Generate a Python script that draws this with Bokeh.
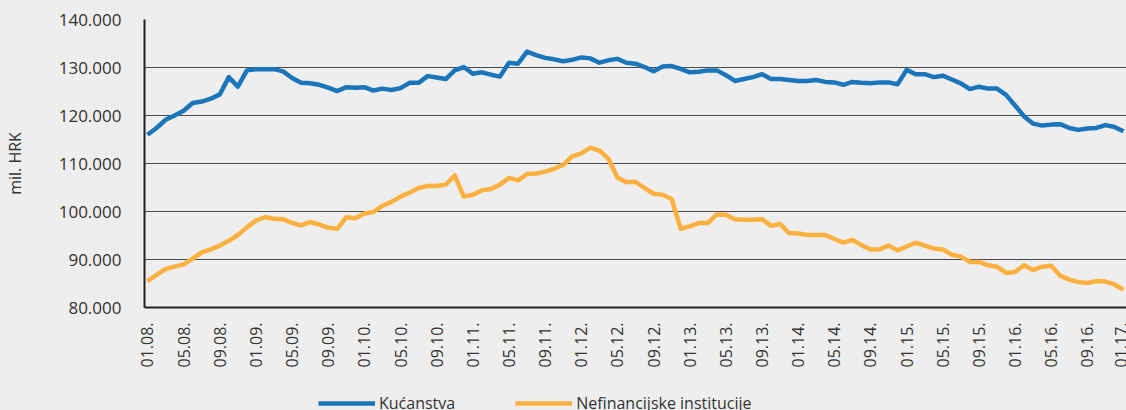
import math
from bokeh.plotting import figure
from bokeh.layouts import column
from bokeh.models import ColumnDataSource, FixedTicker, Legend, LegendItem, Range1d
from bokeh.embed import file_html
from bokeh.resources import INLINE

# Monthly values, 01.2008 - 01.2017 (mil. HRK)
kucanstva = [
    116.0, 117.4, 119.1, 120.0, 121.0, 122.6, 122.9, 123.5, 124.4, 128.0, 126.0, 129.4,
    129.65, 129.65, 129.65, 129.2, 127.8, 126.8, 126.7, 126.4, 125.8, 125.1, 125.9, 125.8,
    125.9, 125.2, 125.6, 125.3, 125.7, 126.8, 126.8, 128.2, 127.9, 127.6, 129.4, 130.1,
    128.7, 129.0, 128.5, 128.1, 131.0, 130.8, 133.3, 132.6, 132.0, 131.7, 131.3, 131.6,
    132.1, 131.9, 131.0, 131.5, 131.8, 131.0, 130.8, 130.1, 129.2, 130.2, 130.3, 129.7,
    129.0, 129.1, 129.4, 129.4, 128.4, 127.2, 127.6, 128.0, 128.6, 127.6, 127.6, 127.4,
    127.2, 127.2, 127.4, 127.0, 126.9, 126.4, 127.0, 126.8, 126.7, 126.9, 126.9, 126.5,
    129.5, 128.6, 128.6, 128.0, 128.3, 127.5, 126.7, 125.5, 126.0, 125.6, 125.6, 124.3,
    122.1, 119.8, 118.3, 117.9, 118.1, 118.2, 117.4, 117.0, 117.3, 117.4, 118.0, 117.6,
    116.7,
]
nefinancijske = [
    85.5, 86.8, 88.0, 88.5, 89.0, 90.2, 91.5, 92.1, 92.9, 93.9, 95.1, 96.7,
    98.1, 98.8, 98.5, 98.4, 97.6, 97.1, 97.8, 97.3, 96.6, 96.4, 98.8, 98.6,
    99.6, 99.9, 101.2, 102.0, 103.1, 103.9, 104.9, 105.3, 105.3, 105.6, 107.5, 103.1,
    103.5, 104.4, 104.7, 105.6, 107.0, 106.5, 107.8, 107.9, 108.3, 108.9, 109.7, 111.5,
    112.1, 113.3, 112.7, 111.0, 107.1, 106.1, 106.2, 104.9, 103.7, 103.5, 102.6, 96.4,
    96.9, 97.6, 97.6, 99.4, 99.3, 98.4, 98.3, 98.3, 98.4, 97.0, 97.4, 95.5,
    95.4, 95.1, 95.1, 95.1, 94.3, 93.5, 94.1, 93.0, 92.1, 92.1, 92.9, 91.9,
    92.7, 93.5, 92.9, 92.3, 92.1, 91.0, 90.6, 89.5, 89.5, 88.8, 88.5, 87.2,
    87.4, 88.8, 87.8, 88.5, 88.7, 86.6, 85.8, 85.3, 85.1, 85.5, 85.4, 84.8,
    83.7,
]
tick_labels = [
    "01.08.", "05.08.", "09.08.", "01.09.", "05.09.", "09.09.", "01.10.", "05.10.",
    "09.10.", "01.11.", "05.11.", "09.11.", "01.12.", "05.12.", "09.12.", "01.13.",
    "05.13.", "09.13.", "01.14.", "05.14.", "09.14.", "01.15.", "05.15.", "09.15.",
    "01.16.", "05.16.", "09.16.", "01.17.",
]
y_ticks = [80000, 90000, 100000, 110000, 120000, 130000, 140000]
y_tick_labels = ["80.000", "90.000", "100.000", "110.000", "120.000", "130.000", "140.000"]
series_names = ["Kućanstva", "Nefinancijske institucije"]
colors = ["#1a75bb", "#fbb040"]

months = list(range(len(kucanstva)))
src = ColumnDataSource(dict(
    m=months,
    k=[v * 1000 for v in kucanstva],
    n=[v * 1000 for v in nefinancijske],
))

FONT = "Open Sans"
TXT = "#333333"
BG = "#eeeeee"
LW = 4.5

p = figure(width=1126, height=380, output_backend="svg", toolbar_location=None,
           x_range=Range1d(-0.33, 108.33), y_range=Range1d(80000, 140000),
           min_border_left=141, min_border_right=0, min_border_top=19, min_border_bottom=73)
p.background_fill_color = BG
p.border_fill_color = BG
p.outline_line_color = None

p.line("m", "k", source=src, line_color=colors[0], line_width=LW, line_join="round")
p.line("m", "n", source=src, line_color=colors[1], line_width=LW, line_join="round")

# x axis
x_tick_pos = list(range(0, len(months), 4))
p.xaxis.ticker = FixedTicker(ticks=x_tick_pos)
p.xaxis.major_label_overrides = {t: lab for t, lab in zip(x_tick_pos, tick_labels)}
p.xaxis.major_label_orientation = math.pi / 2
p.xaxis.major_tick_line_color = None
p.xaxis.minor_tick_line_color = None
p.xaxis.axis_line_color = "#231f20"
p.xaxis.axis_line_width = 2
p.xaxis.major_label_standoff = 9
p.xaxis.major_label_text_font = FONT
p.xaxis.major_label_text_font_size = "16px"
p.xaxis.major_label_text_color = TXT

# y axis
p.yaxis.ticker = FixedTicker(ticks=y_ticks)
p.yaxis.major_label_overrides = {t: lab for t, lab in zip(y_ticks, y_tick_labels)}
p.yaxis.major_tick_line_color = None
p.yaxis.minor_tick_line_color = None
p.yaxis.axis_line_color = "#231f20"
p.yaxis.axis_line_width = 2
p.yaxis.major_label_standoff = 17
p.yaxis.major_label_text_font = FONT
p.yaxis.major_label_text_font_size = "17px"
p.yaxis.major_label_text_color = TXT
p.yaxis.axis_label = "mil. HRK"
p.yaxis.axis_label_text_font = FONT
p.yaxis.axis_label_text_font_size = "16px"
p.yaxis.axis_label_text_font_style = "normal"
p.yaxis.axis_label_text_color = TXT
p.yaxis.axis_label_standoff = 30

p.xgrid.grid_line_color = None
p.ygrid.grid_line_color = "#4a4a4a"
p.ygrid.grid_line_width = 1

# legend strip below the chart (series drawn out of view; only the legend shows)
pl = figure(width=1126, height=30, output_backend="svg", toolbar_location=None,
            x_axis_type=None, y_axis_type=None,
            x_range=Range1d(-0.33, 108.33), y_range=Range1d(0, 1),
            min_border_left=141, min_border_right=0, min_border_top=0, min_border_bottom=0)
pl.background_fill_color = None
pl.border_fill_color = None
pl.outline_line_color = None
lr1 = pl.line("m", "k", source=src, line_color=colors[0], line_width=LW)
lr2 = pl.line("m", "n", source=src, line_color=colors[1], line_width=LW)
legend = Legend(items=[LegendItem(label=series_names[0], renderers=[lr1]),
                       LegendItem(label=series_names[1], renderers=[lr2])],
                location=(174, -4), orientation="horizontal",
                glyph_width=57, glyph_height=16, label_height=16, label_standoff=4,
                spacing=60, padding=0, margin=0,
                border_line_color=None, background_fill_alpha=0,
                label_text_font=FONT, label_text_font_size="16px", label_text_color=TXT)
pl.add_layout(legend, "center")

layout = column(p, pl, spacing=0, styles={"background-color": BG})
open("out.html", "w").write(file_html(layout, INLINE))
